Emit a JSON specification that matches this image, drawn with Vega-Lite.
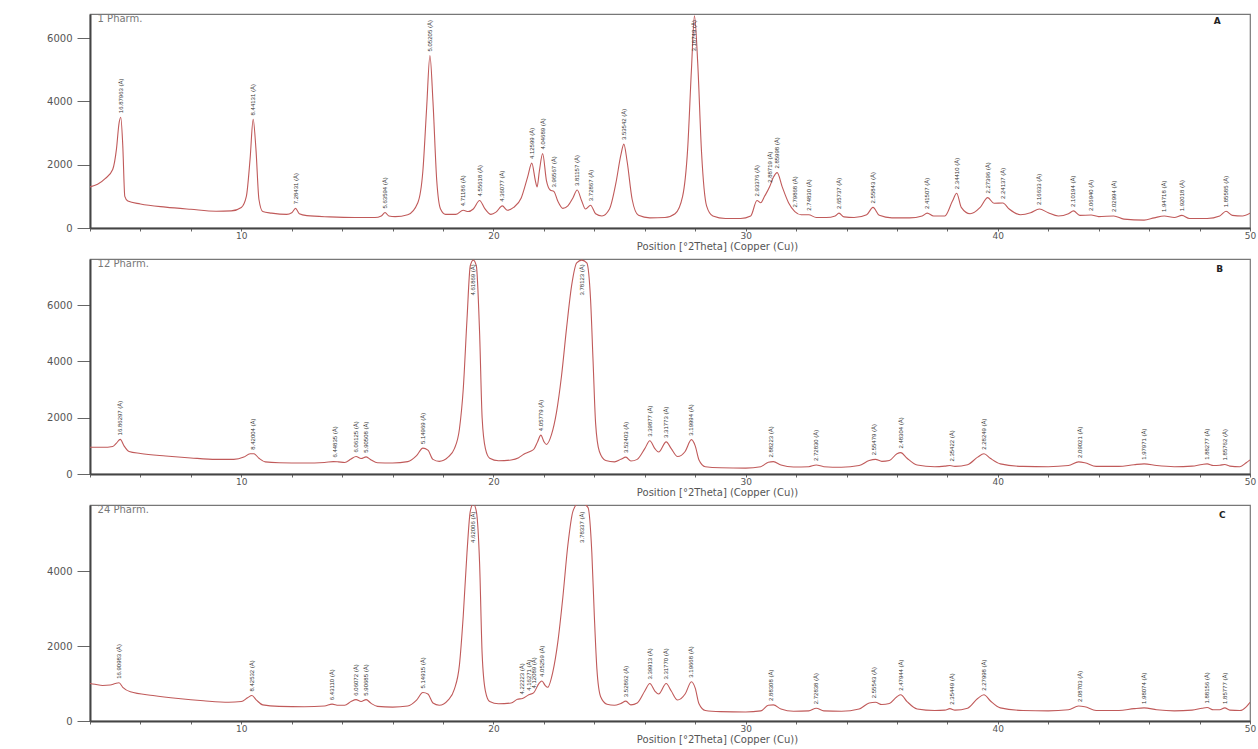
{
  "$schema": "https://vega.github.io/schema/vega-lite/v6.json",
  "background": "white",
  "padding": {"left": 29, "top": 13, "right": 0, "bottom": 0},
  "bounds": "flush",
  "spacing": 31,
  "resolve": {"scale": {"x": "independent", "y": "independent"}},
  "config": {
    "view": {"stroke": "#777", "strokeWidth": 1.2},
    "axis": {"grid": false, "domainColor": "#444", "domainWidth": 2, "labelFont": "DejaVu Sans", "labelColor": "#555", "titleFont": "DejaVu Sans", "titleColor": "#555", "titleFontWeight": "normal", "tickColor": "#666"},
    "axisX": {"tickSize": 3, "labelPadding": 0, "labelFontSize": 9, "titleFontSize": 10, "titlePadding": 1, "titleX": 627, "labelOverlap": false, "labelFlush": false},
    "axisY": {"tickSize": 13, "labelPadding": 5, "labelFontSize": 10, "minExtent": 60, "maxExtent": 60, "title": null, "format": "d"}
  },
  "datasets": {
    "s1": [
      {"t":4.0,"I":1300},{"t":4.3,"I":1380},{"t":4.6,"I":1560},{"t":4.9,"I":1850},{"t":5.05,"I":2500},{"t":5.15,"I":3300},{"t":5.22,"I":3500},{"t":5.3,"I":2600},{"t":5.38,"I":1000},{"t":5.5,"I":850},{"t":6.0,"I":760},{"t":7.0,"I":660},{"t":8.0,"I":590},{"t":9.0,"I":530},{"t":9.6,"I":540},{"t":10.0,"I":650},{"t":10.2,"I":1000},{"t":10.35,"I":2200},{"t":10.47,"I":3430},{"t":10.58,"I":2500},{"t":10.7,"I":900},{"t":10.85,"I":520},{"t":11.2,"I":470},{"t":11.8,"I":430},{"t":12.0,"I":480},{"t":12.15,"I":620},{"t":12.3,"I":450},{"t":12.6,"I":390},{"t":13.5,"I":350},{"t":14.5,"I":330},{"t":15.3,"I":330},{"t":15.55,"I":380},{"t":15.7,"I":490},{"t":15.85,"I":380},{"t":16.1,"I":360},{"t":16.6,"I":420},{"t":17.0,"I":800},{"t":17.2,"I":1800},{"t":17.35,"I":3800},{"t":17.48,"I":5450},{"t":17.6,"I":4000},{"t":17.75,"I":1500},{"t":17.9,"I":600},{"t":18.1,"I":430},{"t":18.5,"I":430},{"t":18.8,"I":560},{"t":19.0,"I":520},{"t":19.2,"I":600},{"t":19.45,"I":870},{"t":19.65,"I":620},{"t":19.9,"I":430},{"t":20.1,"I":500},{"t":20.35,"I":700},{"t":20.55,"I":560},{"t":20.8,"I":650},{"t":21.1,"I":950},{"t":21.35,"I":1600},{"t":21.52,"I":2050},{"t":21.66,"I":1500},{"t":21.73,"I":1300},{"t":21.82,"I":1800},{"t":21.95,"I":2350},{"t":22.1,"I":1500},{"t":22.25,"I":1200},{"t":22.4,"I":1150},{"t":22.55,"I":850},{"t":22.75,"I":620},{"t":22.95,"I":700},{"t":23.15,"I":950},{"t":23.32,"I":1200},{"t":23.5,"I":850},{"t":23.65,"I":600},{"t":23.85,"I":720},{"t":24.05,"I":450},{"t":24.3,"I":380},{"t":24.6,"I":600},{"t":24.85,"I":1400},{"t":25.05,"I":2300},{"t":25.17,"I":2650},{"t":25.3,"I":2100},{"t":25.5,"I":900},{"t":25.75,"I":400},{"t":26.2,"I":320},{"t":26.8,"I":330},{"t":27.2,"I":450},{"t":27.5,"I":1000},{"t":27.7,"I":2500},{"t":27.85,"I":5000},{"t":27.97,"I":6700},{"t":28.1,"I":5200},{"t":28.25,"I":2400},{"t":28.45,"I":700},{"t":28.7,"I":380},{"t":29.2,"I":300},{"t":29.8,"I":300},{"t":30.2,"I":380},{"t":30.45,"I":870},{"t":30.6,"I":800},{"t":30.75,"I":1000},{"t":30.95,"I":1300},{"t":31.1,"I":1600},{"t":31.25,"I":1750},{"t":31.45,"I":1300},{"t":31.7,"I":800},{"t":31.95,"I":520},{"t":32.2,"I":420},{"t":32.5,"I":420},{"t":32.8,"I":330},{"t":33.2,"I":330},{"t":33.55,"I":380},{"t":33.7,"I":470},{"t":33.9,"I":350},{"t":34.3,"I":330},{"t":34.8,"I":420},{"t":35.05,"I":650},{"t":35.3,"I":400},{"t":35.8,"I":320},{"t":36.5,"I":320},{"t":37.0,"I":380},{"t":37.2,"I":470},{"t":37.45,"I":380},{"t":37.9,"I":380},{"t":38.2,"I":850},{"t":38.37,"I":1100},{"t":38.55,"I":650},{"t":38.9,"I":450},{"t":39.3,"I":650},{"t":39.6,"I":960},{"t":39.85,"I":780},{"t":40.2,"I":790},{"t":40.45,"I":600},{"t":40.9,"I":420},{"t":41.3,"I":480},{"t":41.65,"I":600},{"t":42.0,"I":480},{"t":42.4,"I":380},{"t":42.8,"I":450},{"t":43.0,"I":540},{"t":43.25,"I":400},{"t":43.7,"I":410},{"t":44.0,"I":360},{"t":44.6,"I":380},{"t":45.0,"I":280},{"t":45.8,"I":250},{"t":46.2,"I":320},{"t":46.6,"I":380},{"t":47.0,"I":330},{"t":47.3,"I":400},{"t":47.6,"I":300},{"t":48.3,"I":300},{"t":48.8,"I":380},{"t":49.05,"I":530},{"t":49.3,"I":400},{"t":49.7,"I":380},{"t":50.0,"I":470}
    ],
    "l1": [
      {"t":5.22,"I":3500,"d":"16.87963 (Å)"},{"t":10.47,"I":3430,"d":"8.44131 (Å)"},{"t":12.15,"I":620,"d":"7.28431 (Å)"},{"t":15.7,"I":490,"d":"5.63594 (Å)"},{"t":17.48,"I":5450,"d":"5.05205 (Å)"},{"t":18.8,"I":560,"d":"4.71186 (Å)"},{"t":19.45,"I":870,"d":"4.55618 (Å)"},{"t":20.35,"I":700,"d":"4.36077 (Å)"},{"t":21.52,"I":2050,"d":"4.12599 (Å)"},{"t":21.95,"I":2350,"d":"4.04689 (Å)"},{"t":22.4,"I":1150,"d":"3.96567 (Å)"},{"t":23.32,"I":1200,"d":"3.81157 (Å)"},{"t":23.85,"I":720,"d":"3.72867 (Å)"},{"t":25.17,"I":2650,"d":"3.53542 (Å)"},{"t":27.97,"I":5450,"d":"3.18749 (Å)"},{"t":30.45,"I":870,"d":"2.93376 (Å)"},{"t":30.95,"I":1300,"d":"2.88719 (Å)"},{"t":31.25,"I":1750,"d":"2.85998 (Å)"},{"t":31.95,"I":520,"d":"2.79868 (Å)"},{"t":32.5,"I":420,"d":"2.74830 (Å)"},{"t":33.7,"I":470,"d":"2.65737 (Å)"},{"t":35.05,"I":650,"d":"2.55843 (Å)"},{"t":37.2,"I":470,"d":"2.41507 (Å)"},{"t":38.37,"I":1100,"d":"2.34410 (Å)"},{"t":39.6,"I":960,"d":"2.27396 (Å)"},{"t":40.2,"I":790,"d":"2.24137 (Å)"},{"t":41.65,"I":600,"d":"2.16633 (Å)"},{"t":43.0,"I":540,"d":"2.10194 (Å)"},{"t":43.7,"I":410,"d":"2.06940 (Å)"},{"t":44.6,"I":380,"d":"2.02994 (Å)"},{"t":46.6,"I":380,"d":"1.94718 (Å)"},{"t":47.3,"I":400,"d":"1.92018 (Å)"},{"t":49.05,"I":530,"d":"1.85585 (Å)"}
    ],
    "s2": [
      {"t":4.0,"I":950},{"t":4.5,"I":950},{"t":4.9,"I":980},{"t":5.05,"I":1100},{"t":5.2,"I":1230},{"t":5.35,"I":1000},{"t":5.55,"I":800},{"t":6.0,"I":730},{"t":7.0,"I":640},{"t":8.0,"I":570},{"t":9.0,"I":520},{"t":9.7,"I":520},{"t":10.1,"I":600},{"t":10.35,"I":720},{"t":10.5,"I":720},{"t":10.7,"I":560},{"t":10.95,"I":430},{"t":11.5,"I":400},{"t":12.5,"I":390},{"t":13.3,"I":410},{"t":13.65,"I":440},{"t":13.85,"I":430},{"t":14.1,"I":410},{"t":14.35,"I":530},{"t":14.55,"I":620},{"t":14.75,"I":550},{"t":14.95,"I":610},{"t":15.15,"I":500},{"t":15.4,"I":400},{"t":16.0,"I":390},{"t":16.6,"I":440},{"t":16.95,"I":650},{"t":17.2,"I":920},{"t":17.4,"I":850},{"t":17.6,"I":520},{"t":17.85,"I":450},{"t":18.2,"I":600},{"t":18.45,"I":900},{"t":18.65,"I":1600},{"t":18.8,"I":3000},{"t":18.95,"I":5500},{"t":19.08,"I":7400},{"t":19.2,"I":7600},{"t":19.32,"I":7400},{"t":19.45,"I":5000},{"t":19.55,"I":2000},{"t":19.68,"I":900},{"t":19.85,"I":560},{"t":20.2,"I":470},{"t":20.7,"I":500},{"t":21.0,"I":580},{"t":21.2,"I":700},{"t":21.45,"I":800},{"t":21.6,"I":880},{"t":21.75,"I":1150},{"t":21.88,"I":1380},{"t":22.0,"I":1150},{"t":22.1,"I":1050},{"t":22.3,"I":1400},{"t":22.5,"I":2200},{"t":22.7,"I":3500},{"t":22.9,"I":5200},{"t":23.1,"I":6700},{"t":23.3,"I":7500},{"t":23.5,"I":7600},{"t":23.7,"I":7500},{"t":23.85,"I":6200},{"t":23.95,"I":4000},{"t":24.05,"I":1800},{"t":24.2,"I":800},{"t":24.45,"I":480},{"t":24.8,"I":430},{"t":25.05,"I":520},{"t":25.25,"I":600},{"t":25.45,"I":460},{"t":25.7,"I":520},{"t":26.0,"I":900},{"t":26.2,"I":1180},{"t":26.4,"I":900},{"t":26.55,"I":780},{"t":26.85,"I":1140},{"t":27.05,"I":900},{"t":27.3,"I":620},{"t":27.6,"I":800},{"t":27.85,"I":1220},{"t":28.0,"I":1000},{"t":28.15,"I":500},{"t":28.4,"I":260},{"t":29.0,"I":220},{"t":30.0,"I":210},{"t":30.6,"I":260},{"t":30.9,"I":420},{"t":31.1,"I":440},{"t":31.4,"I":320},{"t":31.9,"I":250},{"t":32.5,"I":260},{"t":32.8,"I":320},{"t":33.1,"I":260},{"t":33.8,"I":240},{"t":34.5,"I":300},{"t":34.9,"I":480},{"t":35.15,"I":520},{"t":35.4,"I":450},{"t":35.7,"I":480},{"t":36.0,"I":720},{"t":36.15,"I":760},{"t":36.4,"I":560},{"t":36.8,"I":320},{"t":37.5,"I":260},{"t":37.9,"I":280},{"t":38.1,"I":300},{"t":38.3,"I":270},{"t":38.8,"I":330},{"t":39.2,"I":600},{"t":39.45,"I":720},{"t":39.7,"I":560},{"t":40.1,"I":360},{"t":41.0,"I":270},{"t":42.0,"I":260},{"t":42.8,"I":300},{"t":43.2,"I":430},{"t":43.45,"I":400},{"t":43.9,"I":270},{"t":44.8,"I":270},{"t":45.4,"I":330},{"t":45.8,"I":360},{"t":46.3,"I":300},{"t":47.0,"I":260},{"t":47.7,"I":280},{"t":48.1,"I":340},{"t":48.3,"I":360},{"t":48.55,"I":300},{"t":48.8,"I":310},{"t":49.0,"I":340},{"t":49.2,"I":280},{"t":49.6,"I":260},{"t":49.85,"I":400},{"t":50.0,"I":500}
    ],
    "l2": [
      {"t":5.2,"I":1230,"d":"16.86297 (Å)"},{"t":10.45,"I":720,"d":"8.42004 (Å)"},{"t":13.7,"I":440,"d":"6.44835 (Å)"},{"t":14.55,"I":620,"d":"6.06125 (Å)"},{"t":14.95,"I":610,"d":"5.90508 (Å)"},{"t":17.2,"I":920,"d":"5.14969 (Å)"},{"t":19.2,"I":6200,"d":"4.61869 (Å)"},{"t":21.88,"I":1380,"d":"4.05779 (Å)"},{"t":23.5,"I":6200,"d":"3.78123 (Å)"},{"t":25.25,"I":600,"d":"3.52403 (Å)"},{"t":26.2,"I":1180,"d":"3.39877 (Å)"},{"t":26.85,"I":1140,"d":"3.31773 (Å)"},{"t":27.85,"I":1220,"d":"3.19994 (Å)"},{"t":31.0,"I":440,"d":"2.88223 (Å)"},{"t":32.8,"I":320,"d":"2.72830 (Å)"},{"t":35.1,"I":520,"d":"2.55479 (Å)"},{"t":36.15,"I":760,"d":"2.48304 (Å)"},{"t":38.2,"I":300,"d":"2.35422 (Å)"},{"t":39.45,"I":720,"d":"2.28249 (Å)"},{"t":43.25,"I":430,"d":"2.09021 (Å)"},{"t":45.8,"I":360,"d":"1.97971 (Å)"},{"t":48.3,"I":360,"d":"1.88277 (Å)"},{"t":49.0,"I":340,"d":"1.85762 (Å)"}
    ],
    "s3": [
      {"t":4.0,"I":1000},{"t":4.2,"I":980},{"t":4.5,"I":950},{"t":4.8,"I":960},{"t":5.0,"I":1000},{"t":5.15,"I":1020},{"t":5.3,"I":900},{"t":5.6,"I":780},{"t":6.5,"I":680},{"t":7.5,"I":600},{"t":8.5,"I":540},{"t":9.5,"I":500},{"t":10.0,"I":520},{"t":10.25,"I":620},{"t":10.42,"I":680},{"t":10.6,"I":560},{"t":10.85,"I":430},{"t":11.5,"I":390},{"t":12.5,"I":380},{"t":13.3,"I":400},{"t":13.6,"I":450},{"t":13.85,"I":420},{"t":14.1,"I":420},{"t":14.35,"I":520},{"t":14.55,"I":570},{"t":14.75,"I":520},{"t":14.95,"I":570},{"t":15.15,"I":470},{"t":15.4,"I":390},{"t":16.0,"I":370},{"t":16.6,"I":400},{"t":16.95,"I":560},{"t":17.2,"I":760},{"t":17.4,"I":720},{"t":17.6,"I":480},{"t":17.85,"I":420},{"t":18.2,"I":560},{"t":18.45,"I":850},{"t":18.65,"I":1500},{"t":18.8,"I":2800},{"t":18.95,"I":4500},{"t":19.08,"I":5600},{"t":19.2,"I":5800},{"t":19.32,"I":5600},{"t":19.45,"I":4200},{"t":19.55,"I":1800},{"t":19.68,"I":800},{"t":19.85,"I":520},{"t":20.2,"I":460},{"t":20.7,"I":480},{"t":20.95,"I":580},{"t":21.15,"I":600},{"t":21.4,"I":700},{"t":21.6,"I":760},{"t":21.8,"I":1000},{"t":21.92,"I":1070},{"t":22.05,"I":950},{"t":22.15,"I":900},{"t":22.35,"I":1300},{"t":22.55,"I":2100},{"t":22.75,"I":3300},{"t":22.95,"I":4700},{"t":23.15,"I":5600},{"t":23.35,"I":5800},{"t":23.55,"I":5800},{"t":23.75,"I":5700},{"t":23.9,"I":4500},{"t":24.0,"I":2800},{"t":24.1,"I":1400},{"t":24.25,"I":650},{"t":24.5,"I":450},{"t":24.8,"I":420},{"t":25.05,"I":470},{"t":25.25,"I":530},{"t":25.45,"I":430},{"t":25.7,"I":480},{"t":26.0,"I":800},{"t":26.2,"I":1000},{"t":26.4,"I":800},{"t":26.55,"I":720},{"t":26.85,"I":1000},{"t":27.05,"I":800},{"t":27.3,"I":560},{"t":27.6,"I":720},{"t":27.85,"I":1050},{"t":28.0,"I":880},{"t":28.15,"I":460},{"t":28.4,"I":280},{"t":29.0,"I":250},{"t":30.0,"I":240},{"t":30.6,"I":270},{"t":30.9,"I":420},{"t":31.1,"I":430},{"t":31.4,"I":320},{"t":31.9,"I":260},{"t":32.5,"I":270},{"t":32.8,"I":340},{"t":33.1,"I":270},{"t":33.8,"I":260},{"t":34.5,"I":320},{"t":34.9,"I":480},{"t":35.15,"I":500},{"t":35.4,"I":440},{"t":35.7,"I":470},{"t":36.0,"I":650},{"t":36.15,"I":700},{"t":36.4,"I":520},{"t":36.8,"I":320},{"t":37.5,"I":280},{"t":37.9,"I":290},{"t":38.1,"I":330},{"t":38.3,"I":290},{"t":38.8,"I":340},{"t":39.2,"I":600},{"t":39.45,"I":700},{"t":39.7,"I":540},{"t":40.1,"I":350},{"t":41.0,"I":280},{"t":42.0,"I":270},{"t":42.8,"I":300},{"t":43.2,"I":400},{"t":43.45,"I":380},{"t":43.9,"I":280},{"t":44.8,"I":280},{"t":45.4,"I":330},{"t":45.8,"I":350},{"t":46.3,"I":300},{"t":47.0,"I":270},{"t":47.7,"I":290},{"t":48.1,"I":340},{"t":48.3,"I":360},{"t":48.55,"I":300},{"t":48.8,"I":300},{"t":49.0,"I":350},{"t":49.2,"I":290},{"t":49.6,"I":280},{"t":49.85,"I":380},{"t":50.0,"I":500}
    ],
    "l3": [
      {"t":5.15,"I":1020,"d":"16.90983 (Å)"},{"t":10.42,"I":680,"d":"8.42532 (Å)"},{"t":13.6,"I":450,"d":"6.43110 (Å)"},{"t":14.55,"I":570,"d":"6.06072 (Å)"},{"t":14.95,"I":570,"d":"5.90685 (Å)"},{"t":17.2,"I":760,"d":"5.14915 (Å)"},{"t":19.2,"I":4650,"d":"4.62006 (Å)"},{"t":21.15,"I":600,"d":"4.22223 (Å)"},{"t":21.4,"I":700,"d":"4.16271 (Å)"},{"t":21.6,"I":760,"d":"4.12089 (Å)"},{"t":21.92,"I":1070,"d":"4.05259 (Å)"},{"t":23.5,"I":4650,"d":"3.78337 (Å)"},{"t":25.25,"I":530,"d":"3.52862 (Å)"},{"t":26.2,"I":1000,"d":"3.39913 (Å)"},{"t":26.85,"I":1000,"d":"3.31770 (Å)"},{"t":27.85,"I":1050,"d":"3.19668 (Å)"},{"t":31.0,"I":430,"d":"2.88308 (Å)"},{"t":32.8,"I":340,"d":"2.72838 (Å)"},{"t":35.1,"I":500,"d":"2.55543 (Å)"},{"t":36.15,"I":700,"d":"2.47944 (Å)"},{"t":38.2,"I":330,"d":"2.35449 (Å)"},{"t":39.45,"I":700,"d":"2.27998 (Å)"},{"t":43.25,"I":400,"d":"2.08703 (Å)"},{"t":45.8,"I":350,"d":"1.98074 (Å)"},{"t":48.3,"I":360,"d":"1.88156 (Å)"},{"t":49.0,"I":350,"d":"1.85777 (Å)"}
    ]
  },
  "vconcat": [
    {
      "width": 1160, "height": 214,
      "layer": [
        {"data": {"name": "s1"}, "mark": {"type": "line", "interpolate": "monotone", "color": "#c05a5a", "strokeWidth": 1.1, "clip": true},
         "encoding": {
           "x": {"field": "t", "type": "quantitative", "scale": {"domain": [4, 50], "nice": false, "zero": false},
                 "axis": {"values": [4,5,6,7,8,9,10,11,12,13,14,15,16,17,18,19,20,21,22,23,24,25,26,27,28,29,30,31,32,33,34,35,36,37,38,39,40,41,42,43,44,45,46,47,48,49,50], "labelExpr": "datum.value % 10 === 0 ? datum.label : ''", "title": "Position [°2Theta] (Copper (Cu))", "encode": {"ticks": {"update": {"y2": {"signal": "datum.value % 10 === 0 ? 7 : 3"}}}}}},
           "y": {"field": "I", "type": "quantitative", "scale": {"domain": [0, 6760], "nice": false}, "axis": {"values": [0, 2000, 4000, 6000]}}
         }},
        {"data": {"name": "l1"}, "mark": {"type": "text", "angle": 270, "align": "left", "baseline": "middle", "dx": 4, "fontSize": 6, "font": "Liberation Sans", "color": "#333"},
         "encoding": {"x": {"field": "t", "type": "quantitative"}, "y": {"field": "I", "type": "quantitative"}, "text": {"field": "d"}}},
        {"data": {"values": [{"t": 48.7, "I": 6540, "tag": "A"}]}, "mark": {"type": "text", "fontSize": 9, "fontWeight": "bold", "font": "DejaVu Sans", "color": "#222"},
         "encoding": {"x": {"field": "t", "type": "quantitative"}, "y": {"field": "I", "type": "quantitative"}, "text": {"field": "tag"}}},
        {"data": {"values": [{"t": 4.3, "I": 6760, "tag": "1 Pharm."}]}, "mark": {"type": "text", "align": "left", "baseline": "top", "dy": 0, "fontSize": 10, "font": "DejaVu Sans", "color": "#777"},
         "encoding": {"x": {"field": "t", "type": "quantitative"}, "y": {"field": "I", "type": "quantitative"}, "text": {"field": "tag"}}}
      ]
    },
    {
      "width": 1160, "height": 215,
      "layer": [
        {"data": {"name": "s2"}, "mark": {"type": "line", "interpolate": "monotone", "color": "#c05a5a", "strokeWidth": 1.1, "clip": true},
         "encoding": {
           "x": {"field": "t", "type": "quantitative", "scale": {"domain": [4, 50], "nice": false, "zero": false},
                 "axis": {"values": [4,5,6,7,8,9,10,11,12,13,14,15,16,17,18,19,20,21,22,23,24,25,26,27,28,29,30,31,32,33,34,35,36,37,38,39,40,41,42,43,44,45,46,47,48,49,50], "labelExpr": "datum.value % 10 === 0 ? datum.label : ''", "title": "Position [°2Theta] (Copper (Cu))", "encode": {"ticks": {"update": {"y2": {"signal": "datum.value % 10 === 0 ? 7 : 3"}}}}}},
           "y": {"field": "I", "type": "quantitative", "scale": {"domain": [0, 7640], "nice": false}, "axis": {"values": [0, 2000, 4000, 6000]}}
         }},
        {"data": {"name": "l2"}, "mark": {"type": "text", "angle": 270, "align": "left", "baseline": "middle", "dx": 4, "fontSize": 6, "font": "Liberation Sans", "color": "#333"},
         "encoding": {"x": {"field": "t", "type": "quantitative"}, "y": {"field": "I", "type": "quantitative"}, "text": {"field": "d"}}},
        {"data": {"values": [{"t": 48.8, "I": 7300, "tag": "B"}]}, "mark": {"type": "text", "fontSize": 9, "fontWeight": "bold", "font": "DejaVu Sans", "color": "#222"},
         "encoding": {"x": {"field": "t", "type": "quantitative"}, "y": {"field": "I", "type": "quantitative"}, "text": {"field": "tag"}}},
        {"data": {"values": [{"t": 4.3, "I": 7640, "tag": "12 Pharm."}]}, "mark": {"type": "text", "align": "left", "baseline": "top", "dy": 0, "fontSize": 10, "font": "DejaVu Sans", "color": "#777"},
         "encoding": {"x": {"field": "t", "type": "quantitative"}, "y": {"field": "I", "type": "quantitative"}, "text": {"field": "tag"}}}
      ]
    },
    {
      "width": 1160, "height": 216,
      "layer": [
        {"data": {"name": "s3"}, "mark": {"type": "line", "interpolate": "monotone", "color": "#c05a5a", "strokeWidth": 1.1, "clip": true},
         "encoding": {
           "x": {"field": "t", "type": "quantitative", "scale": {"domain": [4, 50], "nice": false, "zero": false},
                 "axis": {"values": [4,5,6,7,8,9,10,11,12,13,14,15,16,17,18,19,20,21,22,23,24,25,26,27,28,29,30,31,32,33,34,35,36,37,38,39,40,41,42,43,44,45,46,47,48,49,50], "labelExpr": "datum.value % 10 === 0 ? datum.label : ''", "title": "Position [°2Theta] (Copper (Cu))", "encode": {"ticks": {"update": {"y2": {"signal": "datum.value % 10 === 0 ? 7 : 3"}}}}}},
           "y": {"field": "I", "type": "quantitative", "scale": {"domain": [0, 5770], "nice": false}, "axis": {"values": [0, 2000, 4000]}}
         }},
        {"data": {"name": "l3"}, "mark": {"type": "text", "angle": 270, "align": "left", "baseline": "middle", "dx": 4, "fontSize": 6, "font": "Liberation Sans", "color": "#333"},
         "encoding": {"x": {"field": "t", "type": "quantitative"}, "y": {"field": "I", "type": "quantitative"}, "text": {"field": "d"}}},
        {"data": {"values": [{"t": 48.9, "I": 5500, "tag": "C"}]}, "mark": {"type": "text", "fontSize": 9, "fontWeight": "bold", "font": "DejaVu Sans", "color": "#222"},
         "encoding": {"x": {"field": "t", "type": "quantitative"}, "y": {"field": "I", "type": "quantitative"}, "text": {"field": "tag"}}},
        {"data": {"values": [{"t": 4.3, "I": 5770, "tag": "24 Pharm."}]}, "mark": {"type": "text", "align": "left", "baseline": "top", "dy": 0, "fontSize": 10, "font": "DejaVu Sans", "color": "#777"},
         "encoding": {"x": {"field": "t", "type": "quantitative"}, "y": {"field": "I", "type": "quantitative"}, "text": {"field": "tag"}}}
      ]
    }
  ]
}
